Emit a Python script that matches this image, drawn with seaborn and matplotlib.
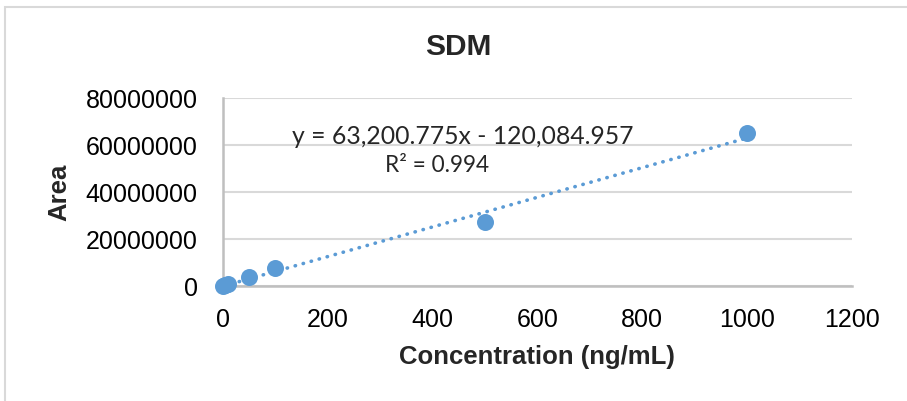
import numpy as np
import pandas as pd
import matplotlib
matplotlib.use("Agg")
import matplotlib.pyplot as plt
from matplotlib.patches import Rectangle
from matplotlib.ticker import FuncFormatter
import seaborn as sns

# Calibration standards: concentration (ng/mL) and measured peak area
concentration = [1, 5, 10, 50, 100, 500, 1000]
area = [80000, 400000, 750000, 3900000, 7500000, 27100000, 65100000]

# Linear trendline reported for the calibration
slope = 63200.775
intercept = -120084.957
r_squared = 0.994

title = "SDM"
x_label = "Concentration (ng/mL)"
y_label = "Area"
x_ticks = [0, 200, 400, 600, 800, 1000, 1200]
y_ticks = [0, 20000000, 40000000, 60000000, 80000000]

sns.set_theme(style="white")
plt.rcParams["font.family"] = ["Liberation Sans", "DejaVu Sans"]

blue = "#5B9BD5"
grid_grey = "#D9D9D9"

W, H = 907, 401
fig = plt.figure(figsize=(W / 100, H / 100), dpi=100)

# chart frame (runs off the right and bottom edges)
fig.patches.append(Rectangle((5 / W, -0.5), 1.5, 0.5 + (H - 7) / H,
                             transform=fig.transFigure, fill=False,
                             edgecolor=grid_grey, linewidth=1.5))

left, right = 222.7 / W, 852 / W
bottom, top = (H - 286) / H, (H - 98.3) / H
ax = fig.add_axes([left, bottom, right - left, top - bottom])

df = pd.DataFrame({"conc": concentration, "area": area})

# trendline across the data range
fit_x = np.array([min(concentration), max(concentration)], dtype=float)
fit_df = pd.DataFrame({"conc": fit_x, "area": slope * fit_x + intercept})
sns.lineplot(data=fit_df, x="conc", y="area", ax=ax, color=blue,
             linestyle=(0, (0.1, 2.2)), linewidth=2.6, zorder=2)
ax.lines[-1].set_dash_capstyle("round")

sns.scatterplot(data=df, x="conc", y="area", ax=ax, color=blue, s=150,
                edgecolor=blue, linewidth=0, zorder=3, clip_on=False)

ax.set_xlim(0, 1200)
ax.set_ylim(0, 80000000)
ax.set_xticks(x_ticks)
ax.set_yticks(y_ticks)
ax.yaxis.set_major_formatter(FuncFormatter(lambda v, p: f"{int(round(v))}"))
ax.tick_params(axis="x", labelsize=18, pad=16, length=0, colors="#000000")
ax.tick_params(axis="y", labelsize=18, pad=18, length=0, colors="#000000")

ax.grid(axis="y", color=grid_grey, linewidth=1.5)
ax.grid(axis="x", visible=False)
ax.set_axisbelow(True)
for side in ["top", "right"]:
    ax.spines[side].set_visible(False)
for side in ["left", "bottom"]:
    ax.spines[side].set_color("#BFBFBF")
    ax.spines[side].set_linewidth(1.8)

ax.set_xlabel(x_label, fontsize=18.5, fontweight="bold", labelpad=9)
ax.set_ylabel(y_label, fontsize=18.5, fontweight="bold", labelpad=10)

fig.text(458 / W, 1 - 47 / H, title, ha="center", va="center",
         fontsize=21.5, fontweight="bold")

eq_font = ["Lato", "DejaVu Sans"]
fig.text(292 / W, 1 - 136 / H, f"y = {slope:,.3f}x - {abs(intercept):,.3f}",
         ha="left", va="center", fontsize=17.8, family=eq_font)
fig.text(437.5 / W, 1 - 166 / H, f"R² = {r_squared}", ha="center", va="center",
         fontsize=16.3, family=eq_font)

fig.savefig("out.png", dpi=100)
